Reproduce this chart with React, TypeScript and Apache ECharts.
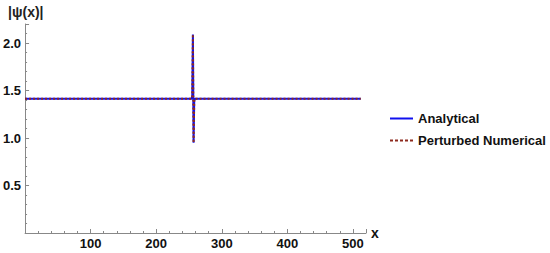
import React, { useEffect, useRef } from "react";
import * as echarts from "echarts";

const analyticalX = [0, 254, 255, 256, 257, 258, 259, 512];
const analyticalY = [1.414, 1.414, 1.44, 2.09, 0.95, 1.39, 1.414, 1.414];
const numericalX = [0, 254, 255, 256, 257, 258, 259, 512];
const numericalY = [1.414, 1.414, 1.44, 2.09, 0.95, 1.39, 1.414, 1.414];
const xTicks = [100, 200, 300, 400, 500];
const yTicks = [0.5, 1.0, 1.5, 2.0];

const FONT = "Liberation Sans, Arial, sans-serif";
const BLUE = "#1010ee";
const RED = "#8e2a1e";

export default function App() {
  const ref = useRef<HTMLDivElement>(null);
  useEffect(() => {
    if (!ref.current) return;
    const chart = echarts.init(ref.current, null, { renderer: "svg" });
    const axisColor = "#888888";
    chart.setOption({
      animation: false,
      backgroundColor: "#ffffff",
      grid: { left: 25, top: 24, width: 341, height: 209, containLabel: false },
      graphic: [
        {
          type: "text",
          left: 8,
          top: 5,
          style: { text: "|ψ(x)|", font: `bold 14px ${FONT}`, fill: "#222" },
        },
      ],
      legend: {
        orient: "vertical",
        left: 385,
        top: 107,
        itemWidth: 23,
        itemHeight: 2,
        itemGap: 9,
        textStyle: { fontFamily: FONT, fontWeight: "bold", fontSize: 13, color: "#111" },
        data: [
          { name: "Analytical", icon: "rect" },
          {
            name: "Perturbed Numerical",
            icon: "path://M0,0h3v2h-3z M5,0h3v2h-3z M10,0h3v2h-3z M15,0h3v2h-3z M20,0h3v2h-3z",
          },
        ],
      },
      xAxis: {
        type: "value",
        min: 0,
        max: 520,
        interval: 100,
        name: "x",
        nameLocation: "end",
        nameGap: 5,
        nameTextStyle: { fontFamily: FONT, fontWeight: "bold", fontSize: 14, color: "#111", verticalAlign: "middle" },
        axisLine: { onZero: true, lineStyle: { color: axisColor, width: 1 } },
        axisTick: { show: true, inside: true, length: 4, lineStyle: { color: axisColor } },
        minorTick: { show: true, splitNumber: 5, length: 2, lineStyle: { color: axisColor } },
        splitLine: { show: false },
        axisLabel: {
          fontFamily: FONT,
          fontWeight: "bold",
          fontSize: 13,
          color: "#111",
          margin: 4,
          showMinLabel: false,
          showMaxLabel: false,
          formatter: (v: number) => (xTicks.includes(v) ? String(v) : ""),
        },
      },
      yAxis: {
        type: "value",
        min: 0,
        max: 2.2,
        interval: 0.5,
        axisLine: { show: true, lineStyle: { color: axisColor, width: 1 } },
        axisTick: { show: true, inside: true, length: 4, lineStyle: { color: axisColor } },
        minorTick: { show: true, splitNumber: 5, length: 2, lineStyle: { color: axisColor } },
        splitLine: { show: false },
        axisLabel: {
          fontFamily: FONT,
          fontWeight: "bold",
          fontSize: 13,
          color: "#111",
          margin: 4,
          showMinLabel: false,
          showMaxLabel: false,
          formatter: (v: number) => {
            const t = yTicks.find((y) => Math.abs(y - v) < 1e-9);
            return t !== undefined ? t.toFixed(1) : "";
          },
        },
      },
      series: [
        {
          name: "Analytical",
          type: "line",
          symbol: "none",
          data: analyticalX.map((x, i) => [x, analyticalY[i]]),
          lineStyle: { color: BLUE, width: 2 },
          itemStyle: { color: BLUE },
          z: 2,
        },
        {
          name: "Perturbed Numerical",
          type: "line",
          symbol: "none",
          data: numericalX.map((x, i) => [x, numericalY[i]]),
          lineStyle: { color: RED, width: 2, type: [2, 2] },
          itemStyle: { color: RED },
          z: 3,
        },
      ],
    });
    return () => chart.dispose();
  }, []);
  return (
    <div
      ref={ref}
      style={{ position: "fixed", left: 0, top: 0, width: 550, height: 253 }}
    />
  );
}
